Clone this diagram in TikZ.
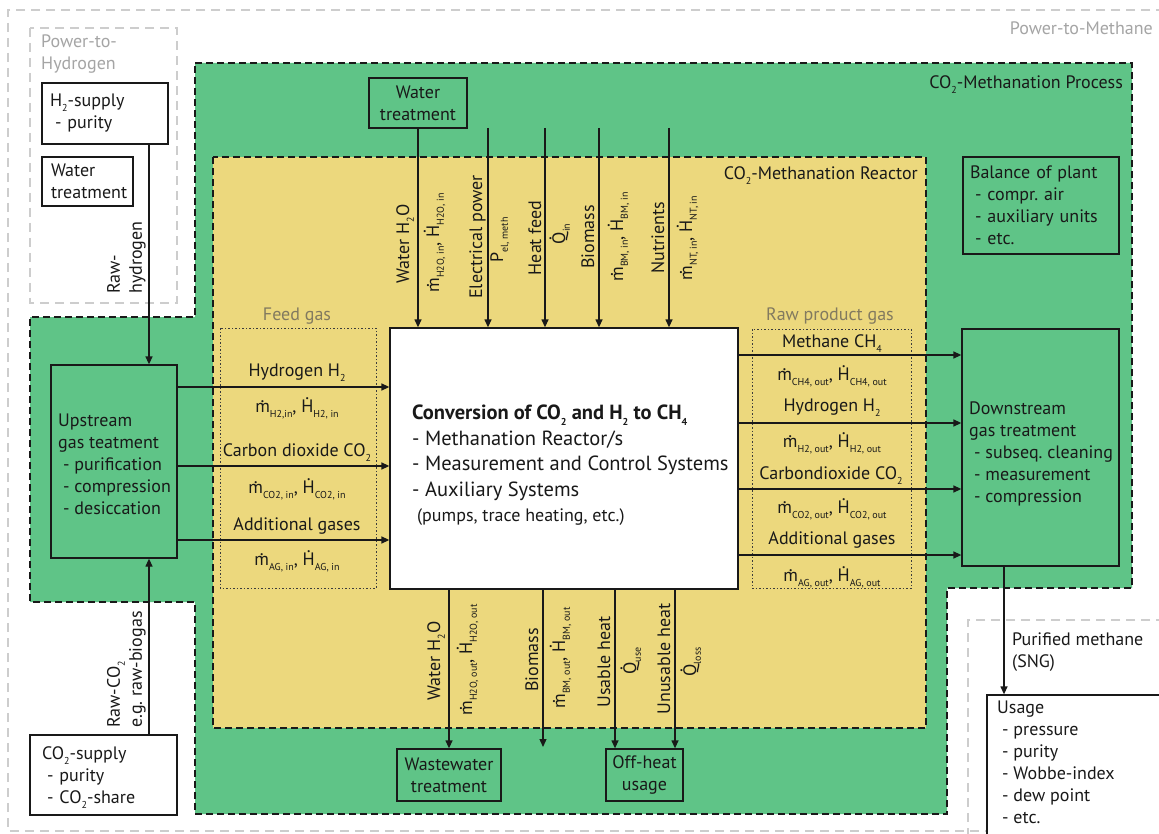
\documentclass[tikz,border=0pt]{standalone}
\usepackage{fontspec}
\setmainfont{PT Sans}
\usetikzlibrary{arrows.meta}
\definecolor{procg}{RGB}{95,196,135}
\definecolor{reacy}{RGB}{236,216,125}
\definecolor{lgray}{RGB}{205,205,205}
\definecolor{tgray}{RGB}{165,165,165}
\definecolor{featc}{RGB}{130,122,95}
\definecolor{ink}{RGB}{25,25,25}
\hyphenpenalty=10000
\exhyphenpenalty=10000
\frenchspacing
\newcommand\sub[1]{\raisebox{-0.27em}[0.4em][0pt]{\fontsize{10}{10}\selectfont #1}}
\newcommand\dotac[1]{\leavevmode\setbox0\hbox{#1}\ooalign{#1\cr\hidewidth\raisebox{\dimexpr\ht0+0.05em\relax}[0pt][0pt]{.}\hidewidth\cr}}
\newcommand\mf[2]{\dotac{m}\sub{#1}, \dotac{H}\sub{#2}}
\newcommand\li[1]{\hspace*{5pt}\mbox{- #1}}
\begin{document}
\begin{tikzpicture}[x=1pt,y=-1pt,
  font=\fontsize{18}{22}\selectfont, text=ink,
  box/.style={draw=ink, line width=1.3pt, inner sep=0pt},
  gbox/.style={box, fill=procg},
  wbox/.style={box, fill=white},
  arr/.style={draw=ink, line width=1.3pt, -{Triangle[length=8pt,width=7pt]}},
  region/.style={draw=ink, line width=1.6pt, dash pattern=on 7pt off 4pt},
  gregion/.style={draw=lgray, line width=1.2pt, dash pattern=on 9pt off 6pt},
  dotbox/.style={draw=ink!85, line width=0.7pt, dash pattern=on 1.5pt off 2pt},
  vl/.style={rotate=90, anchor=base, inner sep=0pt},
  hl/.style={inner sep=0pt},
  ttl/.style={inner sep=0pt}]
\useasboundingbox (0,0) rectangle (1159,834);
\fill[white] (0,0) rectangle (1159,834);

% outer grey regions
\draw[gregion] (1165,10) -- (8,10) -- (8,831) -- (1165,831);
\draw[gregion] (30,28) rectangle (177,303);
\draw[gregion] (1165,620) -- (968,620) -- (968,840);

% process region
\path[region, fill=procg] (195,63) -- (1132,63) -- (1132,588) -- (947,588) -- (947,814) -- (195,814) -- (195,602) -- (30,602) -- (30,317) -- (195,317) -- cycle;
% reactor region
\path[region, fill=reacy] (213,157) rectangle (926,728);

% dotted gas boxes
\draw[dotbox] (220,328) rectangle (376,588);
\draw[dotbox] (752,329) rectangle (911,588);

% region labels
\node[ttl, text=tgray, anchor=east] (lptm) at (1153,28) {Power-to-Methane};
\node[ttl, text=tgray, anchor=west, align=left] (lpth) at (41,54) {Power-to-\\Hydrogen};
\node[ttl, anchor=east] (lproc) at (1123,82) {CO\sub{2}-Methanation Process};
\node[ttl, anchor=east] (lreac) at (918,173) {CO\sub{2}-Methanation Reactor};
\node[ttl, text=featc] (lfeed) at (297,316) {Feed gas};
\node[ttl, text=featc] (lraw) at (830,316) {Raw product gas};

% boxes
\node[wbox, minimum width=126, minimum height=61, text width=110, align=left] (h2s) at (105,113.5) {H\sub{2}-supply\\\li{purity}};
\node[wbox, minimum width=91, minimum height=49, text width=73, align=left] (wt1) at (87.5,181.5) {Water\\treatment};
\node[gbox, minimum width=98, minimum height=50, align=center] (wt2) at (418,103) {Water\\treatment};
\node[gbox, minimum width=126, minimum height=193] (up) at (114,461.5) {};
\node[ttl, anchor=north west, align=left] (upt) at (58,414) {Upstream\\gas teatment\\\li{purification}\\\li{compression}\\\li{desiccation}};
\node[wbox, minimum width=147, minimum height=80, text width=123, align=left] (co2s) at (103.5,775) {CO\sub{2}-supply\\\li{purity}\\\li{CO\sub{2}-share}};
\node[wbox, minimum width=348, minimum height=261] (conv) at (564,458.5) {};
\node[ttl, anchor=north west, align=left, font=\fontsize{20.5}{25.5}\selectfont] (convt) at (412,405) {\textbf{Conversion of CO\sub{2} and H\sub{2} to CH\sub{4}}\\- Methanation Reactor/s\\- Measurement and Control Systems\\- Auxiliary Systems\\\hspace*{5pt}{\fontsize{18}{25.5}\selectfont(pumps, trace heating, etc.)}};
\node[gbox, minimum width=156, minimum height=97, text width=142, align=left] (bop) at (1041,205.5) {Balance of plant\\\li{compr. air}\\\li{auxiliary units}\\\li{etc.}};
\node[gbox, minimum width=157, minimum height=237] (ds) at (1040.5,447.5) {};
\node[ttl, anchor=north west, align=left] (dst) at (969,402) {Downstream\\gas treatment\\\li{subseq. cleaning}\\\li{measurement}\\\li{compression}};
\node[gbox, minimum width=104, minimum height=52, align=center] (ww) at (449,775) {Wastewater\\treatment};
\node[gbox, minimum width=77, minimum height=52, align=center] (oh) at (644.5,775) {Off-heat\\usage};
\node[wbox, minimum width=183, minimum height=145] (usage) at (1078.5,767.5) {};
\node[ttl, anchor=north west, align=left] (uset) at (997,701) {Usage\\\li{pressure}\\\li{purity}\\\li{Wobbe-index}\\\li{dew point}\\\li{etc.}};

% supply connectors
\draw[arr] (h2s.south -| 149,0) -- (up.north -| 149,0);
\node[ttl, rotate=90, anchor=south west, align=left] (lrh) at (146,294) {Raw-\\hydrogen};
\draw[arr] (co2s.north -| 149,0) -- (up.south -| 149,0);
\node[ttl, rotate=90, anchor=south west, align=left] (lrc) at (146,728) {Raw-CO\sub{2}\\e.g. raw-biogas};

% top inputs
\coordinate (ein) at (488,128);
\coordinate (hin) at (545,128);
\coordinate (bin) at (599,128);
\coordinate (nin) at (669,128);
\draw[arr] (wt2.south) -- (conv.north -| wt2.south);
\draw[arr] (ein) -- (conv.north -| ein);
\draw[arr] (hin) -- (conv.north -| hin);
\draw[arr] (bin) -- (conv.north -| bin);
\draw[arr] (nin) -- (conv.north -| nin);
\node[vl] (t1) at (409,244) {Water H\sub{2}O};
\node[vl] (t2) at (439,243) {\mf{H2O, in}{H2O, in}};
\node[vl] (t3) at (482,237) {Electrical power};
\node[vl] (t4) at (503,240) {P\sub{el, meth}};
\node[vl] (t5) at (541,238) {Heat feed};
\node[vl] (t6) at (565,234) {\dotac{Q}\sub{in}};
\node[vl] (t7) at (594,237) {Biomass};
\node[vl] (t8) at (623,237) {\mf{BM, in}{BM, in}};
\node[vl] (t9) at (664,238) {Nutrients};
\node[vl] (t10) at (692,238) {\mf{NT, in}{NT, in}};

% feed gases
\draw[arr] (up.east |- 0,387) -- (conv.west |- 0,387);
\draw[arr] (up.east |- 0,466) -- (conv.west |- 0,466);
\draw[arr] (up.east |- 0,540) -- (conv.west |- 0,540);
\node[hl] (f1) at (297,372) {Hydrogen H\sub{2}};
\node[hl] (f2) at (297,408) {\mf{H2,in}{H2, in}};
\node[hl] (f3) at (297,450) {Carbon dioxide CO\sub{2}};
\node[hl] (f4) at (297,489) {\mf{CO2, in}{CO2, in}};
\node[hl] (f5) at (297,526) {Additional gases};
\node[hl] (f6) at (297,561) {\mf{AG, in}{AG, in}};

% product gases
\draw[arr] (conv.east |- 0,355) -- (ds.west |- 0,355);
\draw[arr] (conv.east |- 0,423) -- (ds.west |- 0,423);
\draw[arr] (conv.east |- 0,489) -- (ds.west |- 0,489);
\draw[arr] (conv.east |- 0,555) -- (ds.west |- 0,555);
\node[hl] (p1) at (832,341) {Methane CH\sub{4}};
\node[hl] (p2) at (832,376) {\mf{CH4, out}{CH4, out}};
\node[hl] (p3) at (832,407) {Hydrogen H\sub{2}};
\node[hl] (p4) at (832,443) {\mf{H2, out}{H2, out}};
\node[hl] (p5) at (831,473) {Carbondioxide CO\sub{2}};
\node[hl] (p6) at (832,509) {\mf{CO2, out}{CO2, out}};
\node[hl] (p7) at (832,540) {Additional gases};
\node[hl] (p8) at (832,577) {\mf{AG, out}{AG, out}};

% outputs
\coordinate (bmo) at (543,747);
\draw[arr] (conv.south -| ww.north) -- (ww.north);
\draw[arr] (conv.south -| bmo) -- (bmo);
\draw[arr] (conv.south -| 615,0) -- (oh.north -| 615,0);
\draw[arr] (conv.south -| 675,0) -- (oh.north -| 675,0);
\node[vl] (b1) at (440,661) {Water H\sub{2}O};
\node[vl] (b2) at (472,660) {\mf{H2O, out}{H2O, out}};
\node[vl] (b3) at (538,660) {Biomass};
\node[vl] (b4) at (565,658) {\mf{BM, out}{BM, out}};
\node[vl] (b5) at (610,662) {Usable heat};
\node[vl] (b6) at (636,661) {\dotac{Q}\sub{use}};
\node[vl] (b7) at (670,659) {Unusable heat};
\node[vl] (b8) at (696,662) {\dotac{Q}\sub{loss}};

% product to usage
\draw[arr] (ds.south -| 1004,0) -- (usage.north -| 1004,0);
\node[ttl, anchor=west, align=left] (lpm) at (1012,652) {Purified methane\\(SNG)};
\end{tikzpicture}
\end{document}
